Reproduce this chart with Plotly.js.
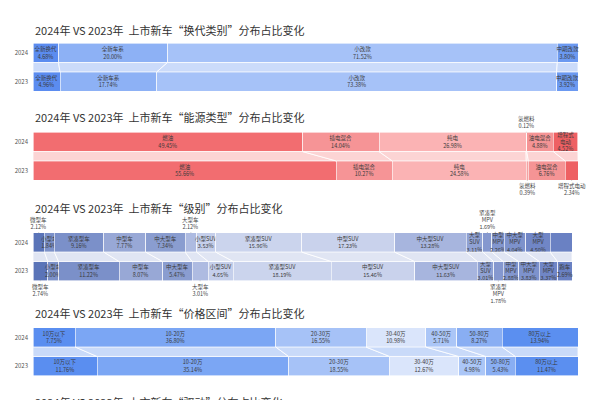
<!DOCTYPE html>
<html><head><meta charset="utf-8">
<script src="https://cdn.plot.ly/plotly-3.0.1.min.js"></script>
<style>html,body{margin:0;padding:0;background:#fff}#chart{width:600px;height:400px}</style>
</head><body><div id="chart"></div>
<script>
const years = ['2023', '2024'];

const p1Title = '2024年 VS 2023年  上市新车“换代类别”分布占比变化';
const p1Cats = ['全新换代', '全新车系', '小改款', '中期改款'];
const p1V2024 = [4.68, 20.00, 71.52, 3.80];
const p1V2023 = [4.96, 17.74, 73.38, 3.92];

const p2Title = '2024年 VS 2023年  上市新车“能源类型”分布占比变化';
const p2Cats = ['燃油', '插电混合', '纯电', '氢燃料', '油电混合', '增程式电动'];
const p2V2024 = [49.45, 14.04, 26.98, 0.12, 4.88, 4.52];
const p2V2023 = [55.66, 10.27, 24.58, 0.39, 6.76, 2.34];

const p3Title = '2024年 VS 2023年  上市新车“级别”分布占比变化';
const p3Cats = ['微型车', '小型车', '紧凑型车', '中型车', '中大型车', '大型车', '小型SUV', '紧凑型SUV', '中型SUV', '中大型SUV', '大型SUV', '紧凑型MPV', '中型MPV', '中大型MPV', '大型MPV', '跑车'];
const p3V2024 = [2.12, 1.84, 9.16, 7.77, 7.34, 2.12, 3.53, 15.96, 17.23, 13.28, 3.11, 1.69, 2.26, 4.04, 4.50, 4.05];
const p3V2023 = [2.74, 2.00, 11.22, 8.07, 5.47, 3.01, 4.65, 18.19, 15.46, 11.63, 3.01, 1.78, 2.88, 3.83, 3.37, 2.69];

const p4Title = '2024年 VS 2023年  上市新车“价格区间”分布占比变化';
const p4Cats = ['10万以下', '10-20万', '20-30万', '30-40万', '40-50万', '50-80万', '80万以上'];
const p4V2024 = [7.75, 36.80, 16.55, 10.98, 5.71, 8.27, 13.94];
const p4V2023 = [11.76, 35.14, 18.55, 12.67, 4.98, 5.43, 11.47];

const p5Title = '2024年 VS 2023年  上市新车“驱动”分布占比变化';

const panels = [
  {title: p1Title, cats: p1Cats, v24: p1V2024, v23: p1V2023, ty: 30, c24: 53, xr: 578,
   colors: ['#5b8cf0', '#8db1f5', '#a6c2f8', '#6b99f1'], band: '#cbdbfa', outTop: [], outBot: []},
  {title: p2Title, cats: p2Cats, v24: p2V2024, v23: p2V2023, ty: 117, c24: 142, xr: 578,
   colors: ['#f26d70', '#f69496', '#fbb3b4', '#f4a3a3', '#f59495', '#ee6063'], band: '#fcd4d4',
   outTop: ['氢燃料'], outBot: ['氢燃料', '增程式电动']},
  {title: p3Title, cats: p3Cats, v24: p3V2024, v23: p3V2023, ty: 208, c24: 242.5, xr: 572,
   colors: ['#5a74b8', '#7c91c9', '#7b90c9', '#98a8d6', '#8a9dd0', '#aebbe1', '#c5cfeb', '#cbd4ed',
            '#c9d2ec', '#a7b5de', '#8fa1d3', '#8598cf', '#8296ce', '#7d92cc', '#7086c6', '#6a81c3'],
   band: '#e0e5f3', outTop: ['微型车', '大型车', '紧凑型MPV'], outBot: ['微型车', '大型车', '紧凑型MPV']},
  {title: p4Title, cats: p4Cats, v24: p4V2024, v23: p4V2023, ty: 313, c24: 337.5, xr: 578,
   colors: ['#5a8ef0', '#7ba6f4', '#a6c2f7', '#dae5fb', '#abc6f7', '#89aef3', '#5b8ff0'], band: '#c9daf9',
   outTop: [], outBot: []}
];

const W = 600, H = 400, unit = 28.5, bw = 0.67;
const FONT = '"Noto Sans CJK SC", "Noto Sans", sans-serif';
const traces = [];
const annotations = [];
const layout = {
  width: W, height: H, margin: {l: 0, r: 0, t: 0, b: 0},
  paper_bgcolor: '#fff', plot_bgcolor: 'rgba(0,0,0,0)',
  barmode: 'stack', showlegend: false,
  font: {family: FONT, color: '#333'},
  uniformtext: {mode: 'show', minsize: 5.5}
};

function fmtName(name, v) {
  let n = name;
  if (v < 5 && /^(大型|中型|中大型|紧凑型)(SUV|MPV)$/.test(n)) n = n.replace(/(SUV|MPV)$/, '<br>$1');
  if (v < 5 && n === '增程式电动') n = '增程式<br>电动';
  return n + '<br>' + v.toFixed(2) + '%';
}

panels.forEach((p, i) => {
  const k = i + 1;
  const xa = 'x' + (k === 1 ? '' : k), ya = 'y' + (k === 1 ? '' : k);
  const lx = 'xaxis' + (k === 1 ? '' : k), ly = 'yaxis' + (k === 1 ? '' : k);
  const top = p.c24 - 0.5 * unit, bot = p.c24 + 1.5 * unit;
  layout[lx] = {domain: [33 / W, p.xr / W], range: [0, 100], visible: false, fixedrange: true, anchor: ya};
  layout[ly] = {domain: [1 - bot / H, 1 - top / H], range: [-0.5, 1.5], tickvals: [0, 1], ticktext: years,
    showgrid: false, zeroline: false, showline: false, ticks: '', ticklabelstandoff: 4,
    tickfont: {size: 6, color: '#555'}, fixedrange: true, anchor: xa};

  annotations.push({xref: 'paper', yref: 'paper', x: 33 / W, y: 1 - p.ty / H, xanchor: 'left', yanchor: 'middle',
    text: p.title, showarrow: false, font: {size: 11, color: '#333', family: FONT}});

  // ribbons
  let s24 = 0, s23 = 0;
  const cum24 = [], cum23 = [];
  p.cats.forEach((c, j) => {
    const a = p.v24[j], b = p.v23[j];
    cum24.push(s24); cum23.push(s23);
    traces.push({type: 'scatter', mode: 'lines', x: [s24, s24 + a, s23 + b, s23, s24],
      y: [1 - bw / 2, 1 - bw / 2, bw / 2, bw / 2, 1 - bw / 2], fill: 'toself', fillcolor: p.band,
      line: {color: '#ffffff', width: 0.8}, xaxis: xa, yaxis: ya, hoverinfo: 'skip', showlegend: false});
    s24 += a; s23 += b;
  });

  // bars
  p.cats.forEach((c, j) => {
    const t23 = p.outBot.includes(c) ? '' : fmtName(c, p.v23[j]);
    const t24 = p.outTop.includes(c) ? '' : fmtName(c, p.v24[j]);
    traces.push({type: 'bar', orientation: 'h', x: [p.v23[j], p.v24[j]], y: [0, 1], width: bw,
      marker: {color: p.colors[j], line: {color: '#ffffff', width: 0.6}},
      text: [t23, t24], textposition: 'inside', insidetextanchor: 'middle', textangle: 0,
      textfont: {size: 5.5, color: '#3a3a3a', family: FONT}, cliponaxis: false,
      xaxis: xa, yaxis: ya, hoverinfo: 'skip', showlegend: false});
  });

  // outside labels
  p.outTop.forEach(c => {
    const j = p.cats.indexOf(c);
    const txt = fmtName(c, p.v24[j]);
    const lines = txt.split('<br>').length;
    annotations.push({xref: xa, yref: ya, x: cum24[j] + p.v24[j] / 2, y: 1 + bw / 2, text: txt,
      showarrow: true, arrowhead: 0, arrowwidth: 0.6, arrowcolor: '#888', ax: 0, ay: -(2 + lines * 3.8),
      standoff: 0, font: {size: 5.5, color: '#444', family: FONT}});
  });
  p.outBot.forEach(c => {
    const j = p.cats.indexOf(c);
    const txt = fmtName(c, p.v23[j]).replace('增程式<br>电动', '增程式电动');
    const lines = txt.split('<br>').length;
    annotations.push({xref: xa, yref: ya, x: cum23[j] + p.v23[j] / 2, y: -bw / 2, text: txt,
      showarrow: true, arrowhead: 0, arrowwidth: 0.6, arrowcolor: '#888', ax: 0, ay: (2 + lines * 3.8),
      standoff: 0, font: {size: 5.5, color: '#444', family: FONT}});
  });
});

annotations.push({xref: 'paper', yref: 'paper', x: 33 / W, y: 1 - 402 / H, xanchor: 'left', yanchor: 'middle',
  text: p5Title, showarrow: false, font: {size: 11, color: '#333', family: FONT}});

layout.annotations = annotations;
Plotly.newPlot('chart', traces, layout, {staticPlot: true, displayModeBar: false});
</script></body></html>
